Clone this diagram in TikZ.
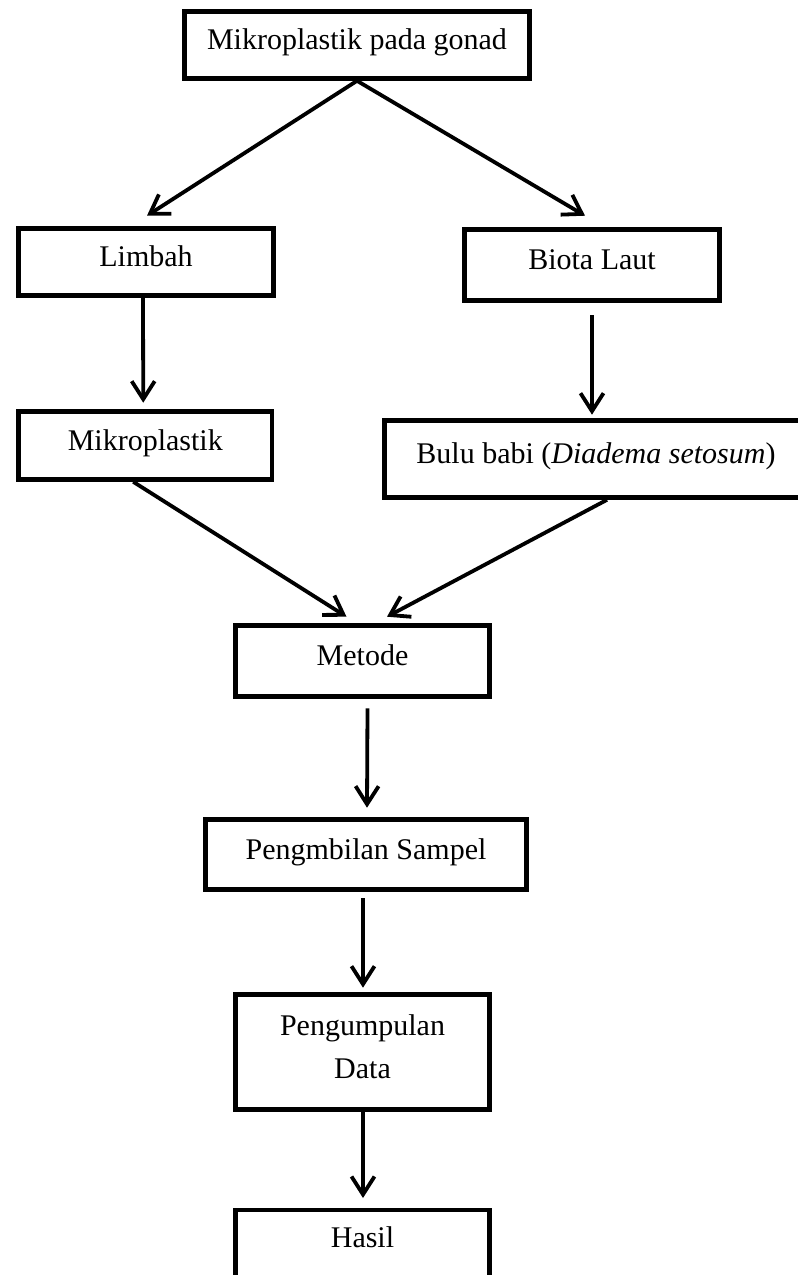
\documentclass[tikz,border=0pt]{standalone}
\usepackage{fontspec}
\setmainfont{Liberation Serif}
\usetikzlibrary{arrows.meta,calc}
\begin{document}
\begin{tikzpicture}[x=1pt,y=-1pt,
  boxbase/.style={draw=black,line width=4.6pt,rectangle,inner sep=0pt,font=\fontsize{30}{43}\selectfont},
  box/.style={boxbase,text height=14.5pt,text depth=5.5pt},
  link/.style={line width=3.8pt,-{Straight Barb[length=18pt,width=23pt]}},
]
\useasboundingbox (0,0) rectangle (798,1275);
\clip (0,0) rectangle (798,1275);
\fill[white] (0,0) rectangle (798,1275);
\node[box,minimum width=345pt,minimum height=67pt] (top) at (357,45) {Mikroplastik pada gonad};
\node[box,minimum width=255pt,minimum height=67pt] (limbah) at (146,262) {Limbah};
\node[box,minimum width=253.5pt,minimum height=68pt] (mikro) at (145.25,445.5) {Mikroplastik};
\node[box,minimum width=255pt,minimum height=71pt] (biota) at (592,265) {Biota Laut};
\node[box,minimum width=423pt,minimum height=77pt] (bulu) at (596,459) {Bulu babi (\textit{Diadema setosum})};
\node[box,minimum width=254pt,minimum height=71pt] (metode) at (362.5,661) {Metode};
\node[box,minimum width=321pt,minimum height=70pt] (peng) at (366,854.5) {Pengmbilan Sampel};
\node[boxbase,align=center,minimum width=254pt,minimum height=115pt] (kumpul) at (362.5,1052) {Pengumpulan\\Data\rule[-10pt]{0pt}{10pt}};
\node[box,text depth=19.5pt,anchor=north,minimum width=254pt,minimum height=80pt] (hasil) at (362.5,1207.5) {Hasil};
\draw[link] (top.south) -- ($(limbah.north)+(1,-10.5)$);
\draw[link] (top.south) -- ($(biota.north)+(-7,-11.5)$);
\draw[link] ($(limbah.south)+(-3,0)$) -- ($(mikro.north)+(-2,-6.5)$);
\draw[link] ($(biota.south)+(0,12.5)$) -- ($(bulu.north)+(-4,-3.5)$);
\draw[link] ($(mikro.south)+(-12,0)$) -- ($(metode.north)+(-16,-6.5)$);
\draw[link] ($(bulu.south)+(11,0)$) -- ($(metode.north)+(24.5,-6.5)$);
\draw[link] ($(metode.south)+(5,9.5)$) -- ($(peng.north)+(1,-9.5)$);
\draw[link] ($(peng.south)+(-3,6.5)$) -- ($(kumpul.north)+(0.5,-4.5)$);
\draw[link] ($(kumpul.south)+(0.5,-4.5)$) -- ($(hasil.north)+(0.5,-9.5)$);
\end{tikzpicture}
\end{document}
